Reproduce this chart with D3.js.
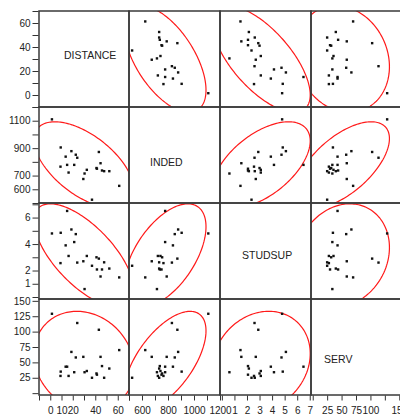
<!DOCTYPE html>
<html><head><meta charset="utf-8">
<script src="https://cdn.jsdelivr.net/npm/d3@7"></script>
<style>body{margin:0;background:#fff}svg{display:block;font-family:"Liberation Sans",Arial,sans-serif}</style>
</head><body><svg id="c" width="400" height="416"></svg>
<script>
const variables = ["DISTANCE","INDED","STUDSUP","SERV"];
const distance = [1.5,9.3,13.7,18.8,22.7,24,9.1,15,21.3,16.3,32.5,30.5,29.4,43.2,44.7,41.1,46,47.9,52.5,61.3,37.1,41.5];
const inded    = [1110,905,838,878,852,830,765,778,778,722,742,715,675,872,790,755,737,732,732,625,524,750];
const studsup  = [4.8,4.85,3.9,5.1,4.75,2.6,2.56,6.5,4.15,3.1,3.1,0.6,2.7,2.9,1.55,3.0,2.08,2.62,2.15,1.48,2.36,2.08];
const serv     = [129,35,43,67,58,114,28,43,34,28,36,34,59,103,59,32,44,25,40,70,25,30];

const distTicks = [-10,0,10,20,30,40,50,60,70];
const indedTicks = [500,600,700,800,900,1000,1100,1200];
const studTicks = [0,1,2,3,4,5,6,7];
const servTicks = [0,25,50,75,100,125,150];

const distYLabels = [0,20,40,60];
const indedYLabels = [600,700,900,1100];
const studYLabels = [1,2,4,6];
const servYLabels = [25,50,75,100,125,150];

const distXLabels = [0,10,20,40,60];
const indedXLabels = [600,800,1000,1200];
const studXLabels = [1,2,3,4,5,6,7];
const servXLabels = [25,50,75,100,150];

const series = [distance, inded, studsup, serv];
const domains = [[-10,70],[500,1200],[-0.15,7.1],[-3,153]];
const ticks = [distTicks, indedTicks, studTicks, servTicks];
const yLabels = [distYLabels, indedYLabels, studYLabels, servYLabels];
const xLabels = [distXLabels, indedXLabels, studXLabels, servXLabels];

const colX = [39,129,220,311,401];
const rowY = [11,107,203,299,395];

const svg = d3.select("#c");
const xs = series.map((s,i)=>d3.scaleLinear().domain(domains[i]).range([colX[i], colX[i+1]]));
const ys = series.map((s,i)=>d3.scaleLinear().domain(domains[i]).range([rowY[i+1], rowY[i]]));

const defs = svg.append("defs");
const n = distance.length;
const k = n - 2;
const F = (k/2)*(Math.pow(0.05,-2/k)-1);
const cRad = Math.sqrt(2*(n-1)*(n+1)/(n*(n-2))*F);

for (let r=0;r<4;r++){
  for (let c=0;c<4;c++){
    const id = `clip${r}${c}`;
    defs.append("clipPath").attr("id",id).append("rect")
      .attr("x",colX[c]).attr("y",rowY[r]).attr("width",colX[c+1]-colX[c]).attr("height",rowY[r+1]-rowY[r]);
    const g = svg.append("g").attr("clip-path",`url(#${id})`);
    if (r===c) continue;
    const xv = series[c], yv = series[r];
    const mx = d3.mean(xv), my = d3.mean(yv);
    let sxx=0, syy=0, sxy=0;
    for (let i=0;i<n;i++){ const dx=xv[i]-mx, dy=yv[i]-my; sxx+=dx*dx; syy+=dy*dy; sxy+=dx*dy; }
    sxx/=n-1; syy/=n-1; sxy/=n-1;
    const a = Math.sqrt(sxx), b = sxy/a, d = Math.sqrt(syy - b*b);
    const pts = d3.range(0, 2*Math.PI+0.001, Math.PI/90).map(t=>[
      xs[c](mx + cRad*a*Math.cos(t)),
      ys[r](my + cRad*(b*Math.cos(t) + d*Math.sin(t)))
    ]);
    g.append("path").attr("d", d3.line()(pts)).attr("fill","none").attr("stroke","#ff1a1a").attr("stroke-width",1.2);
    g.selectAll("rect.pt").data(d3.range(n)).enter().append("rect").attr("class","pt")
      .attr("x",i=>xs[c](xv[i])-1.2).attr("y",i=>ys[r](yv[i])-1.2)
      .attr("width",2.4).attr("height",2.4).attr("fill","#111");
  }
}

// diagonal labels
const labelPos = [[64,59],[150,166],[242,259],[324,363]];
variables.forEach((v,i)=>{
  svg.append("text").attr("x",labelPos[i][0]).attr("y",labelPos[i][1])
    .attr("font-size",10.5).attr("fill","#222").text(v);
});

// panel borders
for (let r=0;r<4;r++) for (let c=0;c<4;c++){
  svg.append("rect").attr("x",colX[c]).attr("y",rowY[r])
    .attr("width",colX[c+1]-colX[c]).attr("height",rowY[r+1]-rowY[r])
    .attr("fill","none").attr("stroke","#3a3a3a").attr("stroke-width",1.5);
}

// left axes
for (let r=0;r<4;r++){
  const ax = d3.axisLeft(ys[r]).tickValues(ticks[r]).tickSize(6).tickPadding(2)
    .tickFormat(v=>yLabels[r].includes(v)?String(v):"");
  const g = svg.append("g").attr("transform",`translate(${colX[0]-0.5},0)`).call(ax);
  g.select(".domain").remove();
  g.selectAll("line").attr("stroke","#333");
  g.selectAll("text").attr("font-size",10).attr("fill","#222").attr("font-family","Liberation Sans, Arial, sans-serif");
}
// bottom axes
for (let c=0;c<4;c++){
  const ax = d3.axisBottom(xs[c]).tickValues(ticks[c]).tickSize(5).tickPadding(6)
    .tickFormat(v=>xLabels[c].includes(v)?String(v):"");
  const g = svg.append("g").attr("transform",`translate(0,${rowY[4]+0.5})`).call(ax);
  g.select(".domain").remove();
  g.selectAll("line").attr("stroke","#333");
  g.selectAll("text").attr("font-size",10).attr("fill","#222").attr("font-family","Liberation Sans, Arial, sans-serif");
}
</script></body></html>
